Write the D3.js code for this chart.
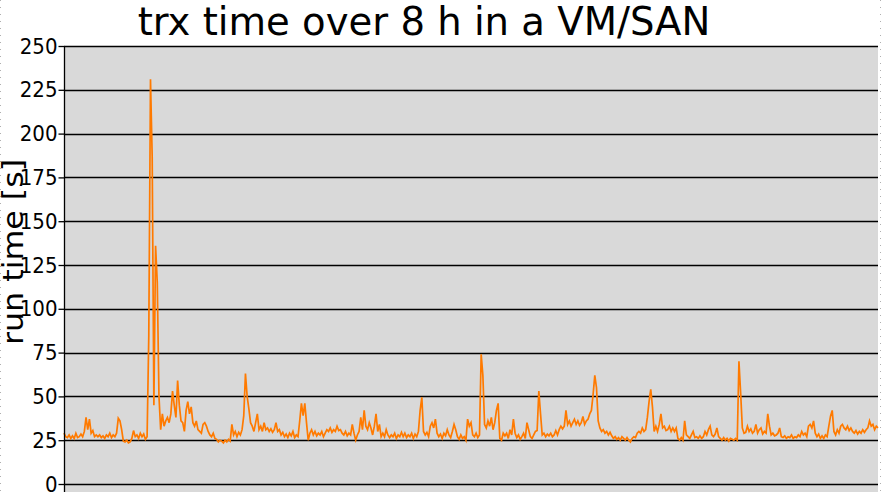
<!DOCTYPE html>
<html>
<head>
<meta charset="utf-8">
<script src="https://cdn.jsdelivr.net/npm/d3@7"></script>
<style>
  html, body { margin: 0; padding: 0; background: #ffffff; }
  svg { display: block; }
</style>
</head>
<body>
<svg id="chart" width="881" height="492"></svg>
<script>
const chartTitle = "trx time over 8 h in a VM/SAN";
const yAxisLabel = "run time [s]";
const yTicks = [0, 25, 50, 75, 100, 125, 150, 175, 200, 225, 250];
// one sample per minute over 8 hours (run time in seconds)
const runTimes = [
  29,27,26.5,28,26,27.5,26,29,26.5,27,28.5,27,30,38,31,37,29,30.5,27,28,
  27,28,26.5,27.5,26,28,27,29,26.5,28,27,29,37.5,36,31,24.5,24,25,23.5,24,
  26,30.5,27,28,26,29,27,28.5,25.5,27,85,231,187,45,136,115,50,31,40,33,
  36,38,35,40,53,45,38,59,45,36,35,30,42,47,40,44,35,33,36,31,
  30,29,34,35,33,30,28,27,29,26,25.5,24,25,24.5,23.5,25,24,25.5,24.5,34,
  28,30,27,29.5,28,31,39,63,50,43,35,33,30,35,40,31,33,30,35,31,
  32,30,31.5,29.5,31,35,30,31,28,29.5,27,28.5,26.5,29,27.5,30,26.5,28,27,36,
  46,39,46,35,25,29,31,28,30,27.5,29,28,30,27,29,31,30,32,29.5,31,
  30,33,30.5,31,29,28,30,27.5,29,28,34,29,25,28,30,38,31,42,33,31,
  35,32,28,33,40,30,34,27,29,27,31,28,26.5,28,27,29,26,28,27,29.5,
  27,29,26.5,28,27,29,26,28.5,27,30,42,49.5,30,28,29.5,27,33,35,32,37,
  29,27,28.5,26,29,27.5,31,28,26.5,30,34,31,27,25.5,28,26,27,25,37,33,
  35,28,27,29,26.5,28,74,62,34,32,36,33,38,31,35,42,46,26,25,29,
  27.5,29,26,31,28,37,29,26.5,28,25.5,27,29,26,35,31,27,26,28,30,30.5,
  53,40,28,29,27,28.5,27.5,29,27,28,30.5,28,31,33,31.5,33,42,34,36,33,
  35,37,34,36,33.5,35,38.5,34,36,37,40,42,51,62,55,36,32,30,31,29,
  30,28,29.5,27.5,26,27,25.5,26.5,25,27,26,25,26.5,25,24,26,27,26.5,29,30,
  29,32,30,31,38,47,54,44,30,33,30,34,40,32,33,30.5,31,33,30,32,
  30,32,26,25,26.5,25,36,28,27,26,28,30,26.5,27,26,27.5,26,27,30,28,
  31,33,28,27,28.5,32,27,26,25,26.5,25,26,24.5,26,25.5,25,26,25,70,52,
  32,29,29.5,33,30,31.5,29,30,34,29,31,32,28.5,30,29,40,33,28,29,27.5,
  28,29,32,27,26.5,27.5,26,27,26.5,28,26,27,26.5,28,27,30,28,29,27,33,
  34,32,36,29,27,28.5,26,27.5,26,28,27,33,38.7,42,30,28,31,29,33,34,
  32,31,33,30.5,32,30,29,30.5,28.5,30,29,31,29.5,31,32,36,33,34,31,33,
  32
];

const W = 881, H = 492;
const plot = { left: 64, right: 878, top: 46, bottom: 484, fillBottom: 492 };

const svg = d3.select("#chart");

const x = d3.scaleLinear().domain([0, runTimes.length - 1]).range([plot.left, plot.right]);
const y = d3.scaleLinear().domain([0, 250]).range([plot.bottom, plot.top]);

// page border dotted markers
svg.append("line").attr("x1", 0.5).attr("x2", 0.5).attr("y1", 0).attr("y2", H)
  .attr("stroke", "#b0b0b0").attr("stroke-dasharray", "1,6");
svg.append("line").attr("x1", 880.5).attr("x2", 880.5).attr("y1", 0).attr("y2", H)
  .attr("stroke", "#b0b0b0").attr("stroke-dasharray", "1,6");

// plot background
svg.append("rect")
  .attr("x", plot.left).attr("y", plot.top)
  .attr("width", plot.right - plot.left).attr("height", plot.fillBottom - plot.top)
  .attr("fill", "#d9d9d9");

// grid lines
svg.append("g").selectAll("line").data(yTicks).join("line")
  .attr("x1", plot.left).attr("x2", plot.right)
  .attr("y1", d => Math.round(y(d)) + 0.5).attr("y2", d => Math.round(y(d)) + 0.5)
  .attr("stroke", "#000").attr("stroke-width", 1.3);

// data line
const line = d3.line().x((d, i) => x(i)).y(d => y(d));
svg.append("path").datum(runTimes)
  .attr("d", line)
  .attr("fill", "none")
  .attr("stroke", "#ff7a00")
  .attr("stroke-width", 1.7)
  .attr("stroke-linejoin", "miter");

// y axis
const yAxis = d3.axisLeft(y).tickValues(yTicks).tickSize(6).tickSizeOuter(0).tickPadding(1);
const gy = svg.append("g").attr("transform", `translate(${plot.left + 0.5},0)`).call(yAxis);
gy.select(".domain").remove();
gy.selectAll(".tick line").attr("stroke", "#000").attr("stroke-width", 1.3);
gy.selectAll(".tick text")
  .attr("fill", "#000")
  .style("font-family", "'DejaVu Sans Condensed', 'DejaVu Sans', sans-serif")
  .style("font-size", "22px");
svg.append("line")
  .attr("x1", plot.left + 0.5).attr("x2", plot.left + 0.5)
  .attr("y1", plot.top).attr("y2", plot.fillBottom)
  .attr("stroke", "#000").attr("stroke-width", 1.3);

// title
svg.append("text")
  .attr("x", 424).attr("y", 35)
  .attr("text-anchor", "middle")
  .style("font-family", "'DejaVu Sans', sans-serif")
  .style("font-size", "38.6px")
  .attr("fill", "#000")
  .text(chartTitle);

// y axis label
svg.append("text")
  .attr("transform", `translate(23, 252) rotate(-90)`)
  .attr("text-anchor", "middle")
  .attr("textLength", 186)
  .attr("lengthAdjust", "spacingAndGlyphs")
  .style("font-family", "'DejaVu Sans', sans-serif")
  .style("font-size", "28px")
  .attr("fill", "#000")
  .text(yAxisLabel);
</script>
</body>
</html>
